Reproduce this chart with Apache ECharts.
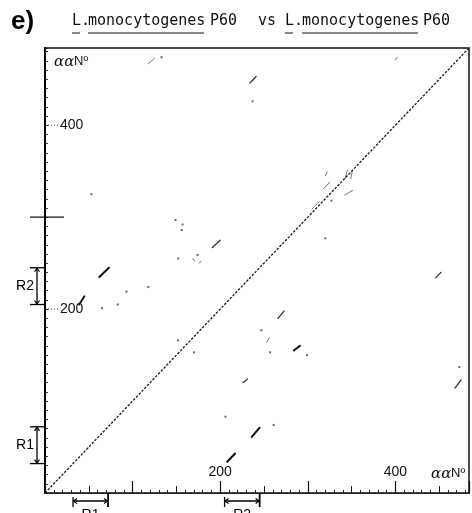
<!DOCTYPE html>
<html><head><meta charset="utf-8">
<script src="https://cdn.jsdelivr.net/npm/echarts@6/dist/echarts.min.js"></script>
<style>html,body{margin:0;padding:0;background:#fff}#c{width:472px;height:513px}</style>
</head><body><div id="c"></div>
<script>
// ---- data ----
const seqLength = 484;
const xTickLabels = [200, 400];
const yTickLabels = [200, 400];
const yLongTicks = [300];
const repeatNames = ['R1', 'R2'];
const repeatStart = [32, 205];
const repeatEnd = [72, 245];
// diagonal identity (self comparison)
const diagonal = [[0, 0], [484, 484]];
// off-diagonal similarity segments [x0, y0, x1, y1] (residue numbers)
const strongSegments = [
  [62,235,73,245],[208,34,217,43],[236,61,245,71],[39,205,45,214],[284,155,291,160]
];
const mediumSegments = [
  [266,190,273,198],[446,234,452,240],[468,114,475,123],[234,446,241,453],
  [191,267,200,275],[226,120,231,124]
];
const faintSegments = [
  [118,467,125,473],[400,471,402,474],[176,250,178,252],[169,255,171,252],
  [320,345,322,349],[343,342,345,351],[349,342,351,351],[342,324,351,329],
  [305,309,313,317],[318,331,325,338],[253,164,256,169]
];
const dots = [
  [237,426],[261,74],[206,83],[65,201],[93,219],[118,224],[83,205],[156,286],
  [152,255],[174,259],[152,166],[170,153],[247,177],[257,153],[299,150],[53,325],
  [473,137],[133,474],[149,297],[157,292],[327,318],[320,277]
];

const chart = echarts.init(document.getElementById('c'), null, {renderer: 'canvas'});

function segSeries(data, width, color) {
  return {
    type: 'custom', xAxisIndex: 0, yAxisIndex: 0, data: data,
    encode: {x: [0, 2], y: [1, 3]},
    renderItem: function (params, api) {
      const p0 = api.coord([api.value(0), api.value(1)]);
      const p1 = api.coord([api.value(2), api.value(3)]);
      return {type: 'line', shape: {x1: p0[0], y1: p0[1], x2: p1[0], y2: p1[1]},
        style: {stroke: color, lineWidth: width, lineCap: 'round'}};
    }
  };
}

const bracketData = repeatNames.map((n, i) => [repeatStart[i], repeatEnd[i], n]);

const option = {
  animation: false,
  backgroundColor: '#fff',
  grid: {left: 45, top: 48, width: 431, height: 445, show: true, borderColor: '#111', borderWidth: 1.5},
  xAxis: [{
    type: 'value', min: 0, max: seqLength, interval: 100,
    axisLine: {show: true, lineStyle: {color: '#222', width: 1}},
    axisTick: {show: true, inside: true, length: 12, lineStyle: {color: '#111', width: 1.2}},
    minorTick: {show: true, splitNumber: 10, length: 3, lineStyle: {color: '#222'}},
    axisLabel: {inside: true, margin: 14, fontFamily: 'Liberation Sans', fontSize: 14, color: '#111',
      formatter: v => xTickLabels.indexOf(v) >= 0 ? String(v) : ''},
    splitLine: {show: false}
  }, {
    type: 'value', min: 0, max: seqLength, interval: 50, gridIndex: 0, position: 'bottom',
    axisLine: {show: false},
    axisTick: {show: true, inside: true, length: 7, lineStyle: {color: '#111'}},
    axisLabel: {show: false}, splitLine: {show: false}
  }],
  yAxis: [{
    type: 'value', min: 0, max: seqLength, interval: 100,
    axisLine: {show: true, lineStyle: {color: '#000', width: 2}},
    axisTick: {show: true, inside: true, length: 3, lineStyle: {color: '#222'}},
    minorTick: {show: true, splitNumber: 10, length: 3, lineStyle: {color: '#333'}},
    axisLabel: {inside: true, margin: 15, fontFamily: 'Liberation Sans', fontSize: 14, color: '#111',
      formatter: v => yTickLabels.indexOf(v) >= 0 ? String(v) : ''},
    splitLine: {show: false}
  }],
  series: [
    {type: 'line', data: diagonal, symbol: 'none', silent: true,
      lineStyle: {color: '#1a1a1a', width: 1.3, type: [2.5, 1.5]}},
    segSeries(strongSegments, 2, '#111'),
    segSeries(mediumSegments, 1.3, '#333'),
    segSeries(faintSegments, 1, '#777'),
    {type: 'scatter', data: dots, symbol: 'rect', symbolSize: 2, itemStyle: {color: '#444'}, silent: true},
    // y leaders and long tick
    {type: 'custom', data: yTickLabels.map(v => [0, v]), clip: false,
      encode: {x: 0, y: 1},
      renderItem: function (params, api) {
        const p = api.coord([0, api.value(1)]);
        return {type: 'line', shape: {x1: p[0] + 3, y1: p[1], x2: p[0] + 15, y2: p[1]},
          style: {stroke: '#333', lineWidth: 1, lineDash: [1, 2]}};
      }},
    {type: 'custom', data: yLongTicks.map(v => [0, v]), clip: false,
      encode: {x: 0, y: 1},
      renderItem: function (params, api) {
        const p = api.coord([0, api.value(1)]);
        return {type: 'line', shape: {x1: p[0] - 15, y1: p[1], x2: p[0] + 19, y2: p[1]},
          style: {stroke: '#111', lineWidth: 1.3}};
      }},
    // repeat brackets on both axes
    {type: 'custom', data: bracketData, clip: false,
      encode: {x: 0},
      renderItem: function (params, api) {
        const s = api.value(0), e = api.value(1), name = bracketData[params.dataIndex][2];
        const a = api.coord([s, 0]), b = api.coord([e, 0]);
        const y = a[1] + 8;
        const st = {stroke: '#000', lineWidth: 1.3};
        const ya = api.coord([0, s]), yb = api.coord([0, e]);
        const x = ya[0] - 8;
        return {type: 'group', children: [
          {type: 'line', shape: {x1: a[0], y1: y, x2: b[0], y2: y}, style: st},
          {type: 'line', shape: {x1: a[0], y1: y - 4, x2: a[0], y2: y + 6}, style: st},
          {type: 'line', shape: {x1: b[0], y1: y - 8, x2: b[0], y2: y + 6}, style: {stroke: '#000', lineWidth: 1.8}},
          {type: 'polyline', shape: {points: [[a[0] + 4, y - 2.5], [a[0] + 0.5, y], [a[0] + 4, y + 2.5]]}, style: {stroke: '#000', fill: null, lineWidth: 1.2}},
          {type: 'polyline', shape: {points: [[b[0] - 4, y - 2.5], [b[0] - 0.5, y], [b[0] - 4, y + 2.5]]}, style: {stroke: '#000', fill: null, lineWidth: 1.2}},
          {type: 'text', x: (a[0] + b[0]) / 2, y: y + 7, style: {text: name, fontFamily: 'Liberation Sans', fontSize: 14, fill: '#000', align: 'center', verticalAlign: 'top'}},
          {type: 'line', shape: {x1: x, y1: ya[1], x2: x, y2: yb[1]}, style: st},
          {type: 'line', shape: {x1: x - 7, y1: ya[1], x2: ya[0], y2: ya[1]}, style: st},
          {type: 'line', shape: {x1: x - 7, y1: yb[1], x2: yb[0], y2: yb[1]}, style: st},
          {type: 'polyline', shape: {points: [[x - 2.5, ya[1] - 4], [x, ya[1] - 0.5], [x + 2.5, ya[1] - 4]]}, style: {stroke: '#000', fill: null, lineWidth: 1.2}},
          {type: 'polyline', shape: {points: [[x - 2.5, yb[1] + 4], [x, yb[1] + 0.5], [x + 2.5, yb[1] + 4]]}, style: {stroke: '#000', fill: null, lineWidth: 1.2}},
          {type: 'text', x: x - 3, y: (ya[1] + yb[1]) / 2, style: {text: name, fontFamily: 'Liberation Sans', fontSize: 14, fill: '#000', align: 'right', verticalAlign: 'middle'}}
        ]};
      }}
  ],
  graphic: [
    {type: 'text', x: 11, y: 9, style: {text: 'e)', fontFamily: 'Liberation Sans', fontWeight: 'bold', fontSize: 26, fill: '#000'}},
    {type: 'text', x: 72, y: 14, style: {text: 'L.', fontFamily: 'DejaVu Sans Mono', fontSize: 15, fill: '#111'}},
    {type: 'text', x: 88, y: 14, style: {text: 'monocytogenes', fontFamily: 'DejaVu Sans Mono', fontSize: 15, fill: '#111'}},
    {type: 'text', x: 210, y: 14, style: {text: 'P60', fontFamily: 'DejaVu Sans Mono', fontSize: 15, fill: '#111'}},
    {type: 'text', x: 258, y: 14, style: {text: 'vs', fontFamily: 'DejaVu Sans Mono', fontSize: 15, fill: '#111'}},
    {type: 'text', x: 285, y: 14, style: {text: 'L.', fontFamily: 'DejaVu Sans Mono', fontSize: 15, fill: '#111'}},
    {type: 'text', x: 302, y: 14, style: {text: 'monocytogenes', fontFamily: 'DejaVu Sans Mono', fontSize: 15, fill: '#111'}},
    {type: 'text', x: 423, y: 14, style: {text: 'P60', fontFamily: 'DejaVu Sans Mono', fontSize: 15, fill: '#111'}},
    {type: 'line', shape: {x1: 72, y1: 33, x2: 80, y2: 33}, style: {stroke: '#111', lineWidth: 1}},
    {type: 'line', shape: {x1: 88, y1: 33, x2: 204, y2: 33}, style: {stroke: '#111', lineWidth: 1}},
    {type: 'line', shape: {x1: 285, y1: 33, x2: 293, y2: 33}, style: {stroke: '#111', lineWidth: 1}},
    {type: 'line', shape: {x1: 302, y1: 33, x2: 418, y2: 33}, style: {stroke: '#111', lineWidth: 1}},
    {type: 'text', x: 54, y: 55, style: {text: 'αα', fontFamily: 'DejaVu Serif', fontStyle: 'italic', fontSize: 15, fill: '#111'}},
    {type: 'text', x: 74, y: 55, style: {text: 'Nº', fontFamily: 'Liberation Sans', fontSize: 13, fill: '#111'}},
    {type: 'text', x: 431, y: 467, style: {text: 'αα', fontFamily: 'DejaVu Serif', fontStyle: 'italic', fontSize: 15, fill: '#111'}},
    {type: 'text', x: 451, y: 467, style: {text: 'Nº', fontFamily: 'Liberation Sans', fontSize: 13, fill: '#111'}}
  ]
};
chart.setOption(option);
</script>
</body></html>
